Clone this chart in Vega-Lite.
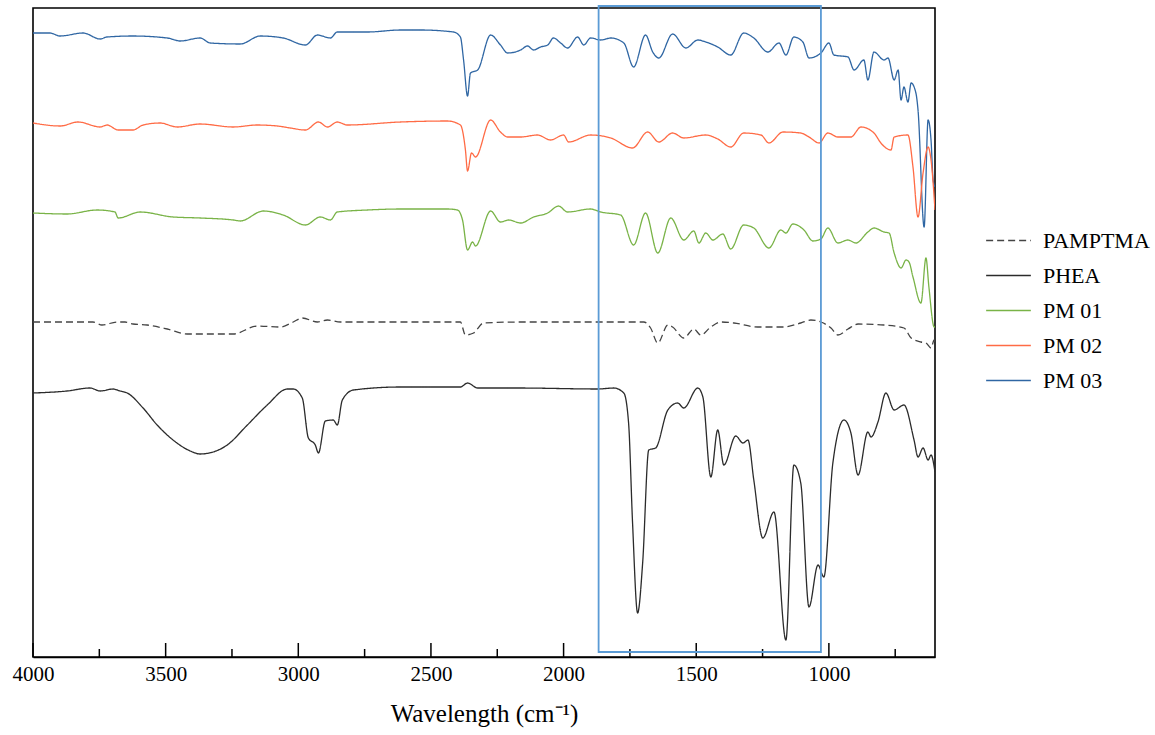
{
  "$schema": "https://vega.github.io/schema/vega-lite/v6.json",
  "width": 902,
  "height": 649,
  "autosize": {"type": "none"},
  "padding": {"left": 33, "top": 8, "right": 220, "bottom": 78},
  "background": "white",
  "config": {
    "view": {"stroke": "#000000", "strokeWidth": 1.6},
    "font": "Liberation Serif"
  },
  "datasets": {
    "box": [{"x1": 1868, "x2": 1030, "y1": 5, "y2": 651}],
    "major": [{"v": 4000}, {"v": 3500}, {"v": 3000}, {"v": 2500}, {"v": 2000}, {"v": 1500}, {"v": 1000}],
    "minor": [{"v": 3750}, {"v": 3250}, {"v": 2750}, {"v": 2250}, {"v": 1750}, {"v": 1250}, {"v": 750}],
    "spectra": [
      {"series": "PM 03", "w": 4000, "t": 624}, {"series": "PM 03", "w": 3936, "t": 624}, {"series": "PM 03", "w": 3898, "t": 621}, {"series": "PM 03", "w": 3811, "t": 624}, {"series": "PM 03", "w": 3747, "t": 618}, {"series": "PM 03", "w": 3721, "t": 620}, {"series": "PM 03", "w": 3623, "t": 621}, {"series": "PM 03", "w": 3494, "t": 619}, {"series": "PM 03", "w": 3445, "t": 616}, {"series": "PM 03", "w": 3370, "t": 619}, {"series": "PM 03", "w": 3332, "t": 614}, {"series": "PM 03", "w": 3219, "t": 613}, {"series": "PM 03", "w": 3143, "t": 621}, {"series": "PM 03", "w": 3057, "t": 619}, {"series": "PM 03", "w": 2973, "t": 612}, {"series": "PM 03", "w": 2928, "t": 622}, {"series": "PM 03", "w": 2879, "t": 619}, {"series": "PM 03", "w": 2853, "t": 625}, {"series": "PM 03", "w": 2739, "t": 625}, {"series": "PM 03", "w": 2615, "t": 627}, {"series": "PM 03", "w": 2539, "t": 627}, {"series": "PM 03", "w": 2415, "t": 625}, {"series": "PM 03", "w": 2389, "t": 620}, {"series": "PM 03", "w": 2377, "t": 597}, {"series": "PM 03", "w": 2362, "t": 561}, {"series": "PM 03", "w": 2351, "t": 584}, {"series": "PM 03", "w": 2324, "t": 587}, {"series": "PM 03", "w": 2275, "t": 622}, {"series": "PM 03", "w": 2238, "t": 612}, {"series": "PM 03", "w": 2211, "t": 604}, {"series": "PM 03", "w": 2162, "t": 607}, {"series": "PM 03", "w": 2136, "t": 611}, {"series": "PM 03", "w": 2113, "t": 607}, {"series": "PM 03", "w": 2087, "t": 610}, {"series": "PM 03", "w": 2060, "t": 612}, {"series": "PM 03", "w": 2038, "t": 619}, {"series": "PM 03", "w": 2011, "t": 614}, {"series": "PM 03", "w": 1985, "t": 609}, {"series": "PM 03", "w": 1947, "t": 620}, {"series": "PM 03", "w": 1924, "t": 612}, {"series": "PM 03", "w": 1898, "t": 619}, {"series": "PM 03", "w": 1860, "t": 617}, {"series": "PM 03", "w": 1822, "t": 619}, {"series": "PM 03", "w": 1773, "t": 614}, {"series": "PM 03", "w": 1736, "t": 590}, {"series": "PM 03", "w": 1691, "t": 622}, {"series": "PM 03", "w": 1664, "t": 605}, {"series": "PM 03", "w": 1641, "t": 599}, {"series": "PM 03", "w": 1589, "t": 623}, {"series": "PM 03", "w": 1539, "t": 609}, {"series": "PM 03", "w": 1494, "t": 617}, {"series": "PM 03", "w": 1464, "t": 615}, {"series": "PM 03", "w": 1419, "t": 610}, {"series": "PM 03", "w": 1370, "t": 602}, {"series": "PM 03", "w": 1321, "t": 624}, {"series": "PM 03", "w": 1283, "t": 619}, {"series": "PM 03", "w": 1230, "t": 605}, {"series": "PM 03", "w": 1188, "t": 614}, {"series": "PM 03", "w": 1162, "t": 602}, {"series": "PM 03", "w": 1132, "t": 620}, {"series": "PM 03", "w": 1098, "t": 615}, {"series": "PM 03", "w": 1075, "t": 599}, {"series": "PM 03", "w": 1030, "t": 604}, {"series": "PM 03", "w": 1000, "t": 614}, {"series": "PM 03", "w": 981, "t": 602}, {"series": "PM 03", "w": 928, "t": 600}, {"series": "PM 03", "w": 905, "t": 587}, {"series": "PM 03", "w": 868, "t": 597}, {"series": "PM 03", "w": 853, "t": 577}, {"series": "PM 03", "w": 830, "t": 605}, {"series": "PM 03", "w": 792, "t": 597}, {"series": "PM 03", "w": 777, "t": 599}, {"series": "PM 03", "w": 754, "t": 577}, {"series": "PM 03", "w": 739, "t": 587}, {"series": "PM 03", "w": 728, "t": 557}, {"series": "PM 03", "w": 717, "t": 570}, {"series": "PM 03", "w": 702, "t": 555}, {"series": "PM 03", "w": 690, "t": 574}, {"series": "PM 03", "w": 672, "t": 564}, {"series": "PM 03", "w": 664, "t": 547}, {"series": "PM 03", "w": 641, "t": 430}, {"series": "PM 03", "w": 626, "t": 537}, {"series": "PM 03", "w": 615, "t": 517}, {"series": "PM 03", "w": 607, "t": 477}, {"series": "PM 03", "w": 600, "t": 470},

      {"series": "PM 02", "w": 4000, "t": 534}, {"series": "PM 02", "w": 3898, "t": 531}, {"series": "PM 02", "w": 3830, "t": 535}, {"series": "PM 02", "w": 3747, "t": 530}, {"series": "PM 02", "w": 3721, "t": 532}, {"series": "PM 02", "w": 3679, "t": 527}, {"series": "PM 02", "w": 3623, "t": 527}, {"series": "PM 02", "w": 3585, "t": 532}, {"series": "PM 02", "w": 3521, "t": 534}, {"series": "PM 02", "w": 3457, "t": 530}, {"series": "PM 02", "w": 3370, "t": 533}, {"series": "PM 02", "w": 3245, "t": 530}, {"series": "PM 02", "w": 3155, "t": 532}, {"series": "PM 02", "w": 3079, "t": 531}, {"series": "PM 02", "w": 3030, "t": 529}, {"series": "PM 02", "w": 2973, "t": 527}, {"series": "PM 02", "w": 2924, "t": 535}, {"series": "PM 02", "w": 2890, "t": 530}, {"series": "PM 02", "w": 2853, "t": 535}, {"series": "PM 02", "w": 2815, "t": 532}, {"series": "PM 02", "w": 2615, "t": 535}, {"series": "PM 02", "w": 2438, "t": 536}, {"series": "PM 02", "w": 2389, "t": 532}, {"series": "PM 02", "w": 2370, "t": 507}, {"series": "PM 02", "w": 2362, "t": 486}, {"series": "PM 02", "w": 2347, "t": 504}, {"series": "PM 02", "w": 2332, "t": 500}, {"series": "PM 02", "w": 2275, "t": 537}, {"series": "PM 02", "w": 2238, "t": 525}, {"series": "PM 02", "w": 2211, "t": 520}, {"series": "PM 02", "w": 2162, "t": 520}, {"series": "PM 02", "w": 2098, "t": 522}, {"series": "PM 02", "w": 2049, "t": 517}, {"series": "PM 02", "w": 2000, "t": 522}, {"series": "PM 02", "w": 1981, "t": 515}, {"series": "PM 02", "w": 1898, "t": 522}, {"series": "PM 02", "w": 1822, "t": 519}, {"series": "PM 02", "w": 1740, "t": 509}, {"series": "PM 02", "w": 1683, "t": 525}, {"series": "PM 02", "w": 1641, "t": 515}, {"series": "PM 02", "w": 1589, "t": 524}, {"series": "PM 02", "w": 1547, "t": 519}, {"series": "PM 02", "w": 1464, "t": 522}, {"series": "PM 02", "w": 1419, "t": 518}, {"series": "PM 02", "w": 1370, "t": 510}, {"series": "PM 02", "w": 1321, "t": 524}, {"series": "PM 02", "w": 1256, "t": 522}, {"series": "PM 02", "w": 1226, "t": 514}, {"series": "PM 02", "w": 1173, "t": 525}, {"series": "PM 02", "w": 1106, "t": 524}, {"series": "PM 02", "w": 1075, "t": 520}, {"series": "PM 02", "w": 1037, "t": 514}, {"series": "PM 02", "w": 1004, "t": 524}, {"series": "PM 02", "w": 966, "t": 520}, {"series": "PM 02", "w": 917, "t": 520}, {"series": "PM 02", "w": 879, "t": 530}, {"series": "PM 02", "w": 830, "t": 524}, {"series": "PM 02", "w": 804, "t": 514}, {"series": "PM 02", "w": 766, "t": 507}, {"series": "PM 02", "w": 754, "t": 520}, {"series": "PM 02", "w": 702, "t": 522}, {"series": "PM 02", "w": 683, "t": 490}, {"series": "PM 02", "w": 664, "t": 440}, {"series": "PM 02", "w": 645, "t": 484}, {"series": "PM 02", "w": 626, "t": 510}, {"series": "PM 02", "w": 615, "t": 497}, {"series": "PM 02", "w": 600, "t": 447},

      {"series": "PM 01", "w": 4000, "t": 444}, {"series": "PM 01", "w": 3872, "t": 443}, {"series": "PM 01", "w": 3758, "t": 447}, {"series": "PM 01", "w": 3691, "t": 445}, {"series": "PM 01", "w": 3679, "t": 439}, {"series": "PM 01", "w": 3596, "t": 445}, {"series": "PM 01", "w": 3472, "t": 440}, {"series": "PM 01", "w": 3370, "t": 439}, {"series": "PM 01", "w": 3245, "t": 437}, {"series": "PM 01", "w": 3219, "t": 436}, {"series": "PM 01", "w": 3132, "t": 446}, {"series": "PM 01", "w": 3057, "t": 442}, {"series": "PM 01", "w": 2973, "t": 432}, {"series": "PM 01", "w": 2917, "t": 440}, {"series": "PM 01", "w": 2879, "t": 437}, {"series": "PM 01", "w": 2853, "t": 445}, {"series": "PM 01", "w": 2739, "t": 447}, {"series": "PM 01", "w": 2615, "t": 448}, {"series": "PM 01", "w": 2438, "t": 448}, {"series": "PM 01", "w": 2400, "t": 447}, {"series": "PM 01", "w": 2381, "t": 437}, {"series": "PM 01", "w": 2362, "t": 407}, {"series": "PM 01", "w": 2343, "t": 415}, {"series": "PM 01", "w": 2332, "t": 411}, {"series": "PM 01", "w": 2275, "t": 446}, {"series": "PM 01", "w": 2238, "t": 435}, {"series": "PM 01", "w": 2207, "t": 437}, {"series": "PM 01", "w": 2162, "t": 434}, {"series": "PM 01", "w": 2113, "t": 440}, {"series": "PM 01", "w": 2060, "t": 444}, {"series": "PM 01", "w": 2019, "t": 451}, {"series": "PM 01", "w": 1985, "t": 445}, {"series": "PM 01", "w": 1898, "t": 448}, {"series": "PM 01", "w": 1860, "t": 445}, {"series": "PM 01", "w": 1785, "t": 442}, {"series": "PM 01", "w": 1736, "t": 412}, {"series": "PM 01", "w": 1691, "t": 444}, {"series": "PM 01", "w": 1645, "t": 404}, {"series": "PM 01", "w": 1596, "t": 439}, {"series": "PM 01", "w": 1547, "t": 417}, {"series": "PM 01", "w": 1509, "t": 426}, {"series": "PM 01", "w": 1490, "t": 414}, {"series": "PM 01", "w": 1464, "t": 424}, {"series": "PM 01", "w": 1437, "t": 417}, {"series": "PM 01", "w": 1400, "t": 423}, {"series": "PM 01", "w": 1370, "t": 408}, {"series": "PM 01", "w": 1321, "t": 432}, {"series": "PM 01", "w": 1283, "t": 429}, {"series": "PM 01", "w": 1226, "t": 409}, {"series": "PM 01", "w": 1181, "t": 427}, {"series": "PM 01", "w": 1162, "t": 424}, {"series": "PM 01", "w": 1136, "t": 433}, {"series": "PM 01", "w": 1094, "t": 427}, {"series": "PM 01", "w": 1060, "t": 416}, {"series": "PM 01", "w": 1030, "t": 418}, {"series": "PM 01", "w": 1004, "t": 429}, {"series": "PM 01", "w": 966, "t": 414}, {"series": "PM 01", "w": 928, "t": 417}, {"series": "PM 01", "w": 898, "t": 414}, {"series": "PM 01", "w": 853, "t": 425}, {"series": "PM 01", "w": 830, "t": 429}, {"series": "PM 01", "w": 792, "t": 425}, {"series": "PM 01", "w": 773, "t": 424}, {"series": "PM 01", "w": 754, "t": 404}, {"series": "PM 01", "w": 728, "t": 389}, {"series": "PM 01", "w": 709, "t": 397}, {"series": "PM 01", "w": 698, "t": 395}, {"series": "PM 01", "w": 683, "t": 380}, {"series": "PM 01", "w": 653, "t": 354}, {"series": "PM 01", "w": 634, "t": 399}, {"series": "PM 01", "w": 623, "t": 370}, {"series": "PM 01", "w": 603, "t": 330}, {"series": "PM 01", "w": 600, "t": 330},

      {"series": "PAMPTMA", "w": 4000, "t": 335}, {"series": "PAMPTMA", "w": 3774, "t": 335}, {"series": "PAMPTMA", "w": 3740, "t": 332}, {"series": "PAMPTMA", "w": 3683, "t": 335}, {"series": "PAMPTMA", "w": 3653, "t": 335}, {"series": "PAMPTMA", "w": 3623, "t": 333}, {"series": "PAMPTMA", "w": 3570, "t": 332}, {"series": "PAMPTMA", "w": 3494, "t": 328}, {"series": "PAMPTMA", "w": 3419, "t": 323}, {"series": "PAMPTMA", "w": 3370, "t": 323}, {"series": "PAMPTMA", "w": 3245, "t": 323}, {"series": "PAMPTMA", "w": 3155, "t": 331}, {"series": "PAMPTMA", "w": 3068, "t": 330}, {"series": "PAMPTMA", "w": 3019, "t": 335}, {"series": "PAMPTMA", "w": 2985, "t": 339}, {"series": "PAMPTMA", "w": 2928, "t": 335}, {"series": "PAMPTMA", "w": 2890, "t": 337}, {"series": "PAMPTMA", "w": 2841, "t": 335}, {"series": "PAMPTMA", "w": 2615, "t": 335}, {"series": "PAMPTMA", "w": 2389, "t": 335}, {"series": "PAMPTMA", "w": 2370, "t": 322}, {"series": "PAMPTMA", "w": 2339, "t": 324}, {"series": "PAMPTMA", "w": 2302, "t": 334}, {"series": "PAMPTMA", "w": 2162, "t": 335}, {"series": "PAMPTMA", "w": 1698, "t": 335}, {"series": "PAMPTMA", "w": 1672, "t": 329}, {"series": "PAMPTMA", "w": 1645, "t": 314}, {"series": "PAMPTMA", "w": 1607, "t": 332}, {"series": "PAMPTMA", "w": 1589, "t": 330}, {"series": "PAMPTMA", "w": 1547, "t": 319}, {"series": "PAMPTMA", "w": 1509, "t": 328}, {"series": "PAMPTMA", "w": 1483, "t": 322}, {"series": "PAMPTMA", "w": 1445, "t": 330}, {"series": "PAMPTMA", "w": 1407, "t": 335}, {"series": "PAMPTMA", "w": 1358, "t": 334}, {"series": "PAMPTMA", "w": 1268, "t": 330}, {"series": "PAMPTMA", "w": 1170, "t": 330}, {"series": "PAMPTMA", "w": 1106, "t": 334}, {"series": "PAMPTMA", "w": 1068, "t": 337}, {"series": "PAMPTMA", "w": 1030, "t": 335}, {"series": "PAMPTMA", "w": 992, "t": 329}, {"series": "PAMPTMA", "w": 966, "t": 322}, {"series": "PAMPTMA", "w": 928, "t": 328}, {"series": "PAMPTMA", "w": 890, "t": 333}, {"series": "PAMPTMA", "w": 792, "t": 332}, {"series": "PAMPTMA", "w": 717, "t": 329}, {"series": "PAMPTMA", "w": 690, "t": 319}, {"series": "PAMPTMA", "w": 653, "t": 315}, {"series": "PAMPTMA", "w": 634, "t": 314}, {"series": "PAMPTMA", "w": 615, "t": 309}, {"series": "PAMPTMA", "w": 603, "t": 317}, {"series": "PAMPTMA", "w": 600, "t": 312},

      {"series": "PHEA", "w": 4000, "t": 264}, {"series": "PHEA", "w": 3872, "t": 266}, {"series": "PHEA", "w": 3785, "t": 269}, {"series": "PHEA", "w": 3747, "t": 266}, {"series": "PHEA", "w": 3698, "t": 268}, {"series": "PHEA", "w": 3672, "t": 266}, {"series": "PHEA", "w": 3645, "t": 264}, {"series": "PHEA", "w": 3585, "t": 249}, {"series": "PHEA", "w": 3532, "t": 232}, {"series": "PHEA", "w": 3472, "t": 217}, {"series": "PHEA", "w": 3407, "t": 206}, {"series": "PHEA", "w": 3370, "t": 203}, {"series": "PHEA", "w": 3321, "t": 205}, {"series": "PHEA", "w": 3268, "t": 212}, {"series": "PHEA", "w": 3192, "t": 232}, {"series": "PHEA", "w": 3117, "t": 252}, {"series": "PHEA", "w": 3041, "t": 268}, {"series": "PHEA", "w": 3019, "t": 268}, {"series": "PHEA", "w": 2985, "t": 259}, {"series": "PHEA", "w": 2962, "t": 219}, {"series": "PHEA", "w": 2936, "t": 212}, {"series": "PHEA", "w": 2924, "t": 204}, {"series": "PHEA", "w": 2898, "t": 236}, {"series": "PHEA", "w": 2868, "t": 237}, {"series": "PHEA", "w": 2853, "t": 232}, {"series": "PHEA", "w": 2834, "t": 257}, {"series": "PHEA", "w": 2792, "t": 267}, {"series": "PHEA", "w": 2615, "t": 270}, {"series": "PHEA", "w": 2389, "t": 270}, {"series": "PHEA", "w": 2362, "t": 274}, {"series": "PHEA", "w": 2324, "t": 269}, {"series": "PHEA", "w": 2173, "t": 269}, {"series": "PHEA", "w": 1871, "t": 268}, {"series": "PHEA", "w": 1811, "t": 269}, {"series": "PHEA", "w": 1773, "t": 264}, {"series": "PHEA", "w": 1755, "t": 234}, {"series": "PHEA", "w": 1740, "t": 134}, {"series": "PHEA", "w": 1721, "t": 44}, {"series": "PHEA", "w": 1702, "t": 94}, {"series": "PHEA", "w": 1679, "t": 207}, {"series": "PHEA", "w": 1653, "t": 209}, {"series": "PHEA", "w": 1607, "t": 247}, {"series": "PHEA", "w": 1570, "t": 254}, {"series": "PHEA", "w": 1547, "t": 249}, {"series": "PHEA", "w": 1494, "t": 269}, {"series": "PHEA", "w": 1475, "t": 260}, {"series": "PHEA", "w": 1445, "t": 180}, {"series": "PHEA", "w": 1419, "t": 227}, {"series": "PHEA", "w": 1396, "t": 192}, {"series": "PHEA", "w": 1351, "t": 221}, {"series": "PHEA", "w": 1324, "t": 214}, {"series": "PHEA", "w": 1305, "t": 217}, {"series": "PHEA", "w": 1283, "t": 177}, {"series": "PHEA", "w": 1249, "t": 119}, {"series": "PHEA", "w": 1207, "t": 145}, {"series": "PHEA", "w": 1162, "t": 17}, {"series": "PHEA", "w": 1132, "t": 192}, {"series": "PHEA", "w": 1106, "t": 174}, {"series": "PHEA", "w": 1075, "t": 50}, {"series": "PHEA", "w": 1041, "t": 92}, {"series": "PHEA", "w": 1019, "t": 80}, {"series": "PHEA", "w": 985, "t": 194}, {"series": "PHEA", "w": 943, "t": 237}, {"series": "PHEA", "w": 917, "t": 224}, {"series": "PHEA", "w": 890, "t": 182}, {"series": "PHEA", "w": 853, "t": 225}, {"series": "PHEA", "w": 841, "t": 220}, {"series": "PHEA", "w": 815, "t": 235}, {"series": "PHEA", "w": 785, "t": 264}, {"series": "PHEA", "w": 754, "t": 247}, {"series": "PHEA", "w": 717, "t": 252}, {"series": "PHEA", "w": 679, "t": 217}, {"series": "PHEA", "w": 664, "t": 200}, {"series": "PHEA", "w": 645, "t": 209}, {"series": "PHEA", "w": 626, "t": 197}, {"series": "PHEA", "w": 615, "t": 202}, {"series": "PHEA", "w": 600, "t": 185}
    ]
  },
  "layer": [
    {
      "data": {"name": "spectra"},
      "mark": {"type": "line", "strokeWidth": 1.3, "clip": true, "interpolate": "monotone"},
      "encoding": {
        "x": {
          "field": "w", "type": "quantitative",
          "scale": {"domain": [600, 4000], "reverse": true, "nice": false, "zero": false},
          "axis": {
            "title": "Wavelength (cm⁻¹)",
            "values": [4000, 3500, 3000, 2500, 2000, 1500, 1000],
            "format": "d",
            "grid": false,
            "domainColor": "#000000", "domainWidth": 1.6,
            "ticks": false,
            "labelFont": "Liberation Serif, Times New Roman, serif", "labelFontSize": 21, "labelColor": "#000000",
            "labelPadding": 6,
            "labelFlush": false, "labelOverlap": false,
            "titleFont": "Liberation Serif, Times New Roman, serif", "titleFontSize": 25, "titleFontWeight": "normal", "titleColor": "#000000",
            "titlePadding": 17
          }
        },
        "y": {
          "field": "t", "type": "quantitative",
          "scale": {"domain": [0, 649], "nice": false, "zero": false},
          "axis": null
        },
        "color": {
          "field": "series", "type": "nominal",
          "scale": {
            "domain": ["PAMPTMA", "PHEA", "PM 01", "PM 02", "PM 03"],
            "range": ["#444444", "#2b2b2b", "#79b347", "#ff6b45", "#2f66a3"]
          },
          "legend": {
            "title": null,
            "orient": "none", "legendX": 952, "legendY": 209,
            "symbolType": "stroke", "symbolSize": 2000, "symbolStrokeWidth": 1.5,
            "labelFont": "Liberation Serif, Times New Roman, serif", "labelFontSize": 22, "labelColor": "#000000",
            "rowPadding": -10, "labelOffset": 11
          }
        },
        "strokeDash": {
          "field": "series", "type": "nominal",
          "scale": {
            "domain": ["PAMPTMA", "PHEA", "PM 01", "PM 02", "PM 03"],
            "range": [[7, 4], [1, 0], [1, 0], [1, 0], [1, 0]]
          },
          "legend": {
            "title": null,
            "orient": "none", "legendX": 952, "legendY": 209,
            "symbolType": "stroke", "symbolSize": 2000, "symbolStrokeWidth": 1.5,
            "labelFont": "Liberation Serif, Times New Roman, serif", "labelFontSize": 22, "labelColor": "#000000",
            "rowPadding": -10, "labelOffset": 11
          }
        }
      }
    },
    {
      "data": {"name": "major"},
      "mark": {"type": "rule", "color": "#000000", "strokeWidth": 1.5, "clip": false},
      "encoding": {
        "x": {"field": "v", "type": "quantitative"},
        "y": {"datum": 0},
        "y2": {"datum": 14}
      }
    },
    {
      "data": {"name": "minor"},
      "mark": {"type": "rule", "color": "#000000", "strokeWidth": 1.5, "clip": false},
      "encoding": {
        "x": {"field": "v", "type": "quantitative"},
        "y": {"datum": 0},
        "y2": {"datum": 8}
      }
    },
    {
      "data": {"name": "box"},
      "mark": {"type": "rect", "fill": "transparent", "stroke": "#5b9bd5", "strokeWidth": 1.8, "clip": false},
      "encoding": {
        "x": {"field": "x1", "type": "quantitative"},
        "x2": {"field": "x2"},
        "y": {"field": "y1", "type": "quantitative"},
        "y2": {"field": "y2"}
      }
    }
  ]
}
